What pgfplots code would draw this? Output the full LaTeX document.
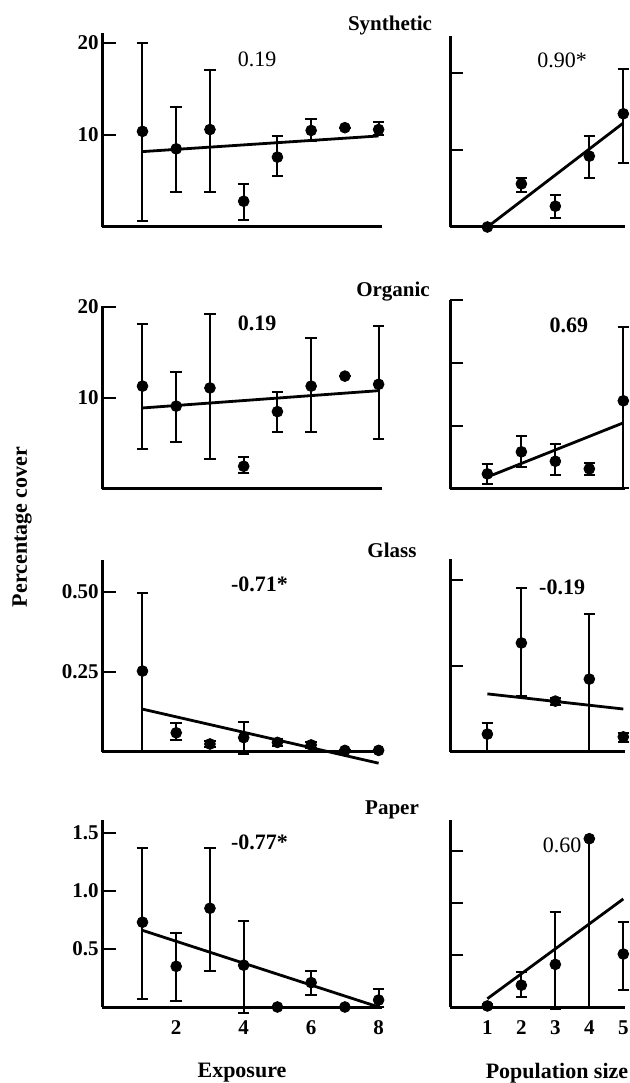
\documentclass[border=0pt]{standalone}
\usepackage{fontspec}
\setmainfont{Liberation Serif}
\usepackage{pgfplots}
\pgfplotsset{compat=1.18}
\pgfplotsset{
  panel/.style={
    scale only axis, clip=false,
    axis x line*=bottom, axis y line*=left,
    axis line style={line width=1.5pt,-},
    tick align=inside, major tick length=7pt,
    ytick style={line width=1pt,black},
    xtick style={draw=none},
    xtick=\empty,
    /pgf/number format/assume math mode=true,
    ticklabel style={font=\fontsize{10.5}{12}\selectfont\bfseries},
    yticklabel style={anchor=east,inner sep=0pt,xshift=-1.5pt},
    xticklabel style={anchor=north,inner sep=0pt,yshift=-6.5pt},
    ymin=0,
  },
  lpanel/.style={panel, width=140pt, xmin=-0.2, xmax=8.1},
  rpanel/.style={panel, width=87.5pt, xmin=-0.1, xmax=5.05, yticklabels={}, major tick length=6.5pt},
  pts/.style={only marks, mark=*, mark size=2.7pt, black,
    error bars/.cd, y dir=both, y explicit,
    error bar style={line width=1pt,black},
    error mark options={rotate=90,mark size=2.9pt,line width=1pt,black}},
  reg/.style={black, line width=1.4pt, no marks},
}
\newcommand{\rlab}[1]{\fontsize{11}{13}\selectfont #1}
\begin{document}
\begin{tikzpicture}
\path[use as bounding box] (0,0) rectangle (314.5pt,541.5pt);
% ---------- Synthetic ----------
\begin{axis}[lpanel, at={(51pt,428pt)}, anchor=south west, height=97pt, ymax=21.1, ytick={10,20}]
\addplot[pts] table[x=x,y=y,y error plus=ep,y error minus=em]{
x y ep em
1 10.4 9.6 9.7
2 8.5 4.5 4.7
3 10.6 6.5 6.8
4 2.8 1.9 2.0
5 7.6 2.3 2.1
6 10.5 1.3 1.2
7 10.8 0 0
8 10.6 0.8 0.6
};
\addplot[reg] coordinates {(1,8.2) (8,9.9)};
\node at (axis cs:4.4,18.2) {\rlab{0.19}};
\end{axis}
\begin{axis}[rpanel, at={(225pt,428pt)}, anchor=south west, height=95.5pt, ymax=24.8, ytick={10,20}]
\addplot[pts] table[x=x,y=y,y error plus=ep,y error minus=em]{
x y ep em
1 0 0 0
2 5.6 0.8 1.1
3 2.7 1.5 1.5
4 9.2 2.6 2.8
5 14.7 5.8 6.4
};
\addplot[reg] coordinates {(1,0) (5,13.5)};
\node at (axis cs:3.2,21.7) {\rlab{0.90*}};
\end{axis}
% ---------- Organic ----------
\begin{axis}[lpanel, at={(51pt,297pt)}, anchor=south west, height=91.5pt, ymax=20.1, ytick={10,20}]
\addplot[pts] table[x=x,y=y,y error plus=ep,y error minus=em]{
x y ep em
1 11.3 6.8 6.9
2 9.1 3.8 3.9
3 11.1 8.1 7.8
4 2.5 1.0 0.7
5 8.5 2.2 2.2
6 11.3 5.3 5.0
7 12.4 0 0
8 11.5 6.4 6.0
};
\addplot[reg] coordinates {(1,8.9) (8,10.8)};
\node at (axis cs:4.4,18.2) {\rlab{\bfseries 0.19}};
\end{axis}
\begin{axis}[rpanel, at={(225pt,297pt)}, anchor=south west, height=94.5pt, ymax=30, ytick={10,20,30}]
\addplot[pts] table[x=x,y=y,y error plus=ep,y error minus=em]{
x y ep em
1 2.4 1.6 1.6
2 5.9 2.5 2.4
3 4.4 2.7 2.2
4 3.2 0.9 1.0
5 14.0 11.7 13.8
};
\addplot[reg] coordinates {(1,1.9) (5,10.5)};
\node at (axis cs:3.4,26) {\rlab{\bfseries 0.69}};
\end{axis}
% ---------- Glass ----------
\begin{axis}[lpanel, at={(51pt,165.5pt)}, anchor=south west, height=96pt, ymax=0.6, ytick={0.25,0.5},
  yticklabel style={/pgf/number format/.cd,fixed,fixed zerofill,precision=2}]
\addplot[pts] table[x=x,y=y,y error plus=ep,y error minus=em]{
x y ep em
1 0.253 0.244 0.253
2 0.06 0.03 0.023
3 0.025 0.01 0.01
4 0.045 0.049 0.05
5 0.03 0.01 0.01
6 0.022 0.008 0.008
7 0.005 0 0
8 0.005 0 0
};
\addplot[reg] coordinates {(1,0.134) (8,-0.035)};
\node at (axis cs:4.47,0.525) {\rlab{\bfseries -0.71*}};
\end{axis}
\begin{axis}[rpanel, at={(225pt,165.5pt)}, anchor=south west, height=96.3pt, ymax=0.56, ytick={0.25,0.5}]
\addplot[pts] table[x=x,y=y,y error plus=ep,y error minus=em]{
x y ep em
1 0.052 0.032 0.052
2 0.317 0.16 0.154
3 0.148 0.01 0.01
4 0.212 0.188 0.212
5 0.044 0.011 0.014
};
\addplot[reg] coordinates {(1,0.169) (5,0.125)};
\node at (axis cs:3.2,0.48) {\rlab{\bfseries -0.19}};
\end{axis}
% ---------- Paper ----------
\begin{axis}[lpanel, at={(51pt,38pt)}, anchor=south west, height=93.5pt, ymax=1.61, ytick={0.5,1,1.5},
  xtick={2,4,6,8},
  yticklabel style={/pgf/number format/.cd,fixed,fixed zerofill,precision=1}]
\addplot[pts] table[x=x,y=y,y error plus=ep,y error minus=em]{
x y ep em
1 0.73 0.64 0.66
2 0.35 0.29 0.30
3 0.85 0.52 0.54
4 0.36 0.38 0.41
5 0.0 0 0
6 0.21 0.10 0.11
7 0.0 0 0
8 0.06 0.095 0.06
};
\addplot[reg] coordinates {(1,0.66) (8,0.0)};
\node at (axis cs:4.47,1.42) {\rlab{\bfseries -0.77*}};
\end{axis}
\begin{axis}[rpanel, at={(225pt,38pt)}, anchor=south west, height=93.5pt, ymax=1.8, ytick={0.5,1,1.5},
  xtick={1,2,3,4,5}]
\addplot[pts] table[x=x,y=y,y error plus=ep,y error minus=em]{
x y ep em
1 0.01 0.02 0.01
2 0.21 0.13 0.11
3 0.41 0.50 0.43
4 1.62 0 1.62
5 0.51 0.31 0.35
};
\addplot[reg] coordinates {(1,0.08) (5,1.04)};
\node at (axis cs:3.2,1.56) {\rlab{0.60}};
\end{axis}
% ---------- titles and labels ----------
\begin{scope}[every node/.style={font=\fontsize{10.5}{12}\selectfont\bfseries}]
\node at (195pt,529pt) {Synthetic};
\node at (196.5pt,395.5pt) {Organic};
\node at (196pt,266.5pt) {Glass};
\node at (196pt,136.5pt) {Paper};
\end{scope}
\begin{scope}[every node/.style={font=\fontsize{11}{13}\selectfont\bfseries}]
\node at (121pt,5pt) {Exposure};
\node at (278.5pt,5pt) {Population size};
\node[rotate=90] at (11pt,278pt) {Percentage cover};
\end{scope}
\end{tikzpicture}
\end{document}
